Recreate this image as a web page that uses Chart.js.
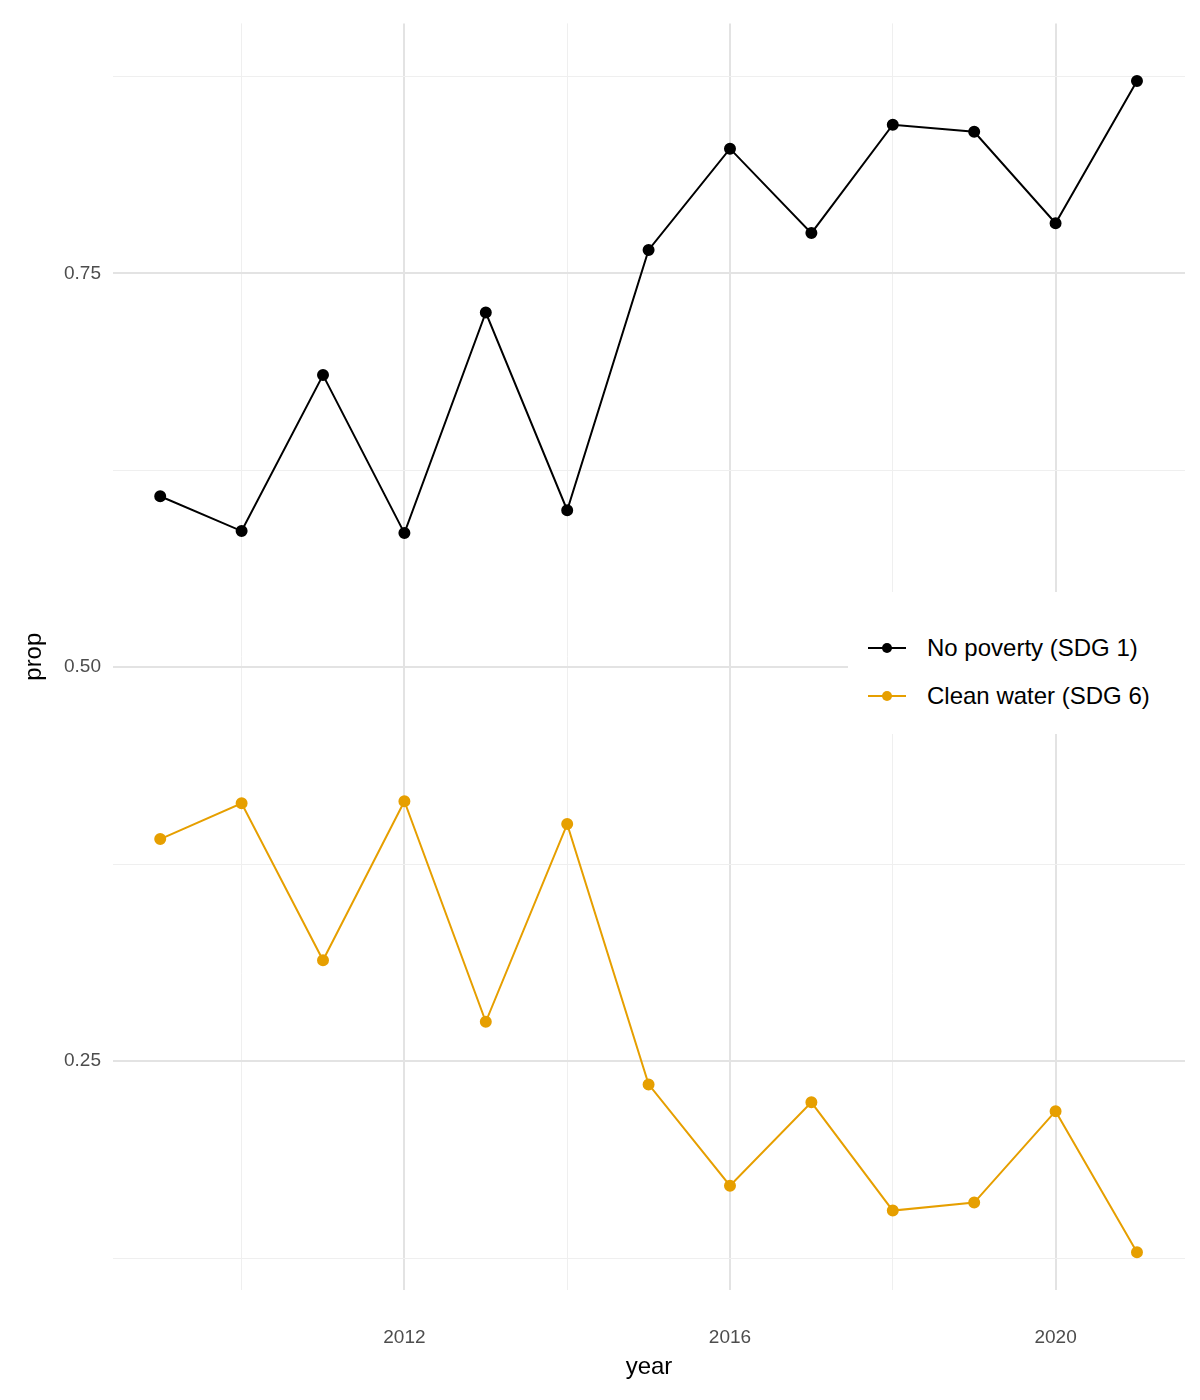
<!DOCTYPE html>
<html><head><meta charset="utf-8">
<script src="https://cdn.jsdelivr.net/npm/chart.js@4"></script>
<style>
body{margin:0;background:#fff;font-family:"Liberation Sans",Arial,sans-serif}
#wrap{position:relative;width:1200px;height:1400px}
#legend{position:absolute;left:848px;top:592px;width:340px;height:142px;background:#fff;font-size:24px;color:#000}
.item{position:absolute;left:20px;display:flex;align-items:center}
.key{position:relative;width:38px;height:20px;margin-right:21px}
.key i{position:absolute;left:0;right:0;top:9px;height:2px}
.key b{position:absolute;left:14px;top:5px;width:10px;height:10px;border-radius:50%}
</style></head>
<body><div id="wrap"><canvas id="c" width="1200" height="1400"></canvas>
<div id="legend">
 <div class="item" style="top:42px"><span class="key"><i style="background:#000"></i><b style="background:#000"></b></span>No poverty (SDG 1)</div>
 <div class="item" style="top:90px"><span class="key"><i style="background:#E69F00"></i><b style="background:#E69F00"></b></span>Clean water (SDG 6)</div>
</div></div>
<script>
const years = [2009,2010,2011,2012,2013,2014,2015,2016,2017,2018,2019,2020,2021];
const noPoverty = [0.6085,0.5864,0.6854,0.5851,0.7251,0.5996,0.7648,0.8291,0.7755,0.8443,0.8398,0.7818,0.8720];
const cleanWater = [0.3909,0.4136,0.3140,0.4149,0.2749,0.4004,0.2352,0.1709,0.2238,0.1551,0.1602,0.2182,0.1286];
const xTicks = [2010,2012,2014,2016,2018,2020];
const xLabels = [2012,2016,2020];
const yTicks = [0.125,0.25,0.375,0.5,0.625,0.75,0.875];
const yLabels = [0.25,0.5,0.75];

const pts = vals => vals.map((v, i) => ({x: years[i], y: v}));
const ds = (label, vals, col) => ({label, data: pts(vals), borderColor: col, backgroundColor: col,
  borderWidth: 2, pointRadius: 5, pointHoverRadius: 5, tension: 0});

new Chart(document.getElementById('c'), {
  type: 'line',
  data: {datasets: [ds('No poverty (SDG 1)', noPoverty, '#000'), ds('Clean water (SDG 6)', cleanWater, '#E69F00')]},
  options: {
    responsive: false, animation: false,
    layout: {padding: {top: 8, right: 15, bottom: 14, left: 16}},
    plugins: {legend: {display: false}, tooltip: {enabled: false}},
    scales: {
      x: {type: 'linear', min: 2008.42, max: 2021.59,
        afterBuildTicks: s => { s.ticks = xTicks.map(v => ({value: v})); },
        afterFit: s => { s.height = 96; },
        border: {display: false},
        grid: {color: c => xLabels.includes(c.tick && c.tick.value) ? '#e3e3e3' : '#efefef',
               lineWidth: c => xLabels.includes(c.tick && c.tick.value) ? 2 : 1, drawTicks: false},
        ticks: {color: '#4d4d4d', font: {size: 19}, padding: 36, maxRotation: 0,
          callback: v => xLabels.includes(v) ? String(v) : ''},
        title: {display: true, text: 'year', color: '#000', font: {size: 24}, padding: {top: 0}}
      },
      y: {min: 0.1047, max: 0.9086,
        afterBuildTicks: s => { s.ticks = yTicks.map(v => ({value: v})); },
        afterFit: s => { s.width = 97; },
        border: {display: false},
        grid: {color: c => yLabels.includes(c.tick && c.tick.value) ? '#e3e3e3' : '#efefef',
               lineWidth: c => yLabels.includes(c.tick && c.tick.value) ? 2 : 1, drawTicks: false},
        ticks: {color: '#4d4d4d', font: {size: 19}, padding: 12,
          callback: v => yLabels.includes(v) ? v.toFixed(2) : ''},
        title: {display: true, text: 'prop', color: '#000', font: {size: 24}, padding: {bottom: 8}}
      }
    }
  }
});
</script></body></html>
